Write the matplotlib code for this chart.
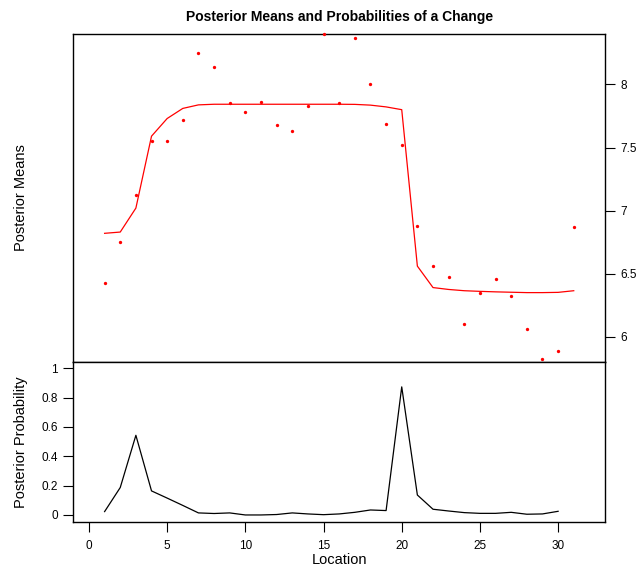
import numpy as np
import matplotlib.pyplot as plt

plt.rcParams['font.family'] = ['Liberation Sans', 'DejaVu Sans']

location = np.arange(1, 32)

observed = [6.43, 6.75, 7.12, 7.55, 7.55, 7.72, 8.25, 8.14, 7.85, 7.78,
            7.86, 7.68, 7.63, 7.83, 8.40, 7.85, 8.37, 8.00, 7.69, 7.52,
            6.88, 6.56, 6.47, 6.10, 6.35, 6.46, 6.32, 6.06, 5.82, 5.89, 6.87]

post_means = [6.82, 6.83, 7.02, 7.59, 7.73, 7.81, 7.838, 7.843, 7.843, 7.843,
              7.843, 7.843, 7.843, 7.843, 7.843, 7.843, 7.842, 7.836, 7.822, 7.80,
              6.56, 6.39, 6.375, 6.365, 6.36, 6.356, 6.353, 6.35, 6.35, 6.352, 6.365]

post_prob = [0.023, 0.187, 0.543, 0.164, 0.115, 0.065, 0.014, 0.010, 0.014, 0.0,
             0.0, 0.003, 0.014, 0.007, 0.002, 0.007, 0.018, 0.034, 0.030, 0.873,
             0.136, 0.039, 0.027, 0.016, 0.011, 0.011, 0.018, 0.005, 0.007, 0.025]

fig = plt.figure(figsize=(6.36, 5.71), dpi=100)
ax1 = fig.add_axes([0.1153, 0.3669, 0.8360, 0.5736])
ax2 = fig.add_axes([0.1153, 0.0858, 0.8360, 0.2811])

for ax in (ax1, ax2):
    ax.set_xlim(-1.0, 33.0)
    for s in ax.spines.values():
        s.set_linewidth(1.0)
    ax.tick_params(length=7, width=0.8, labelsize=8.5, pad=4, direction='out')

# top panel
ax1.plot(location, observed, 'o', color='red', ms=2.4, mec='none',
         clip_on=False, zorder=5)
ax1.plot(location, post_means, color='red', lw=0.9)
ax1.set_ylim(5.804, 8.40)
ax1.yaxis.tick_right()
ax1.set_yticks([6, 6.5, 7, 7.5, 8])
ax1.set_yticklabels(['6', '6.5', '7', '7.5', '8'])
ax1.set_xticks([])
ax1.set_ylabel('Posterior Means', fontsize=10.5)
ax1.yaxis.set_label_position('left')
ax1.yaxis.set_label_coords(-0.085, 0.5)
ax1.set_title('Posterior Means and Probabilities of a Change',
              fontsize=10, fontweight='bold', pad=9)

# bottom panel
ax2.plot(location[:30], post_prob, color='black', lw=0.9)
ax2.set_ylim(-0.048, 1.046)
ax2.set_yticks([0, 0.2, 0.4, 0.6, 0.8, 1])
ax2.set_yticklabels(['0', '0.2', '0.4', '0.6', '0.8', '1'])
ax2.set_xticks([0, 5, 10, 15, 20, 25, 30])
ax2.tick_params(axis='x', pad=6)
ax2.set_xlabel('Location', fontsize=10.5, labelpad=1)
ax2.set_ylabel('Posterior Probability', fontsize=10.5)
ax2.yaxis.set_label_coords(-0.085, 0.5)

fig.savefig('out.png', dpi=100)
